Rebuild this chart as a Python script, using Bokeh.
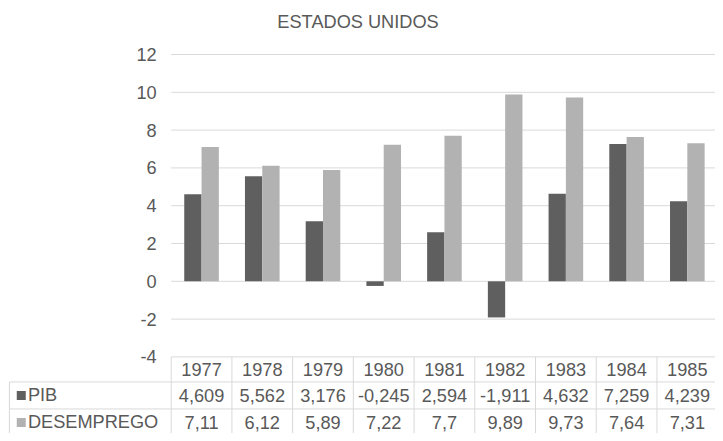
from bokeh.plotting import figure
from bokeh.models import Range1d
from bokeh.core.properties import value
from bokeh.embed import file_html
from bokeh.resources import INLINE

# ---- data ----
years = ["1977", "1978", "1979", "1980", "1981", "1982", "1983", "1984", "1985"]
pib = [4.609, 5.562, 3.176, -0.245, 2.594, -1.911, 4.632, 7.259, 4.239]
desemprego = [7.11, 6.12, 5.89, 7.22, 7.7, 9.89, 9.73, 7.64, 7.31]
series_names = ["PIB", "DESEMPREGO"]
y_ticks = [-4, -2, 0, 2, 4, 6, 8, 10, 12]
title_text = "ESTADOS UNIDOS"

# ---- style ----
FONT = "Liberation Sans"
TXT = "#595959"
GRID = "#d9d9d9"
C_PIB = "#5f5f5f"
C_DES = "#b2b2b2"
FS = "18.2px"

# ---- layout (data units: x = category index, y = value) ----
X_LO, X_HI = -2.811, 8.964
Y_LO, Y_HI = -8.052, 14.857
BAR_W = 0.285
TICK_LABEL_X = -0.24
TABLE_LEFT = -2.664
ROW_EDGES = [-4.0, -5.325, -6.753]          # table horizontal lines
ROW_CENTERS = [-4.66, -6.04, -7.47]         # years row, PIB row, DESEMPREGO row
KEY_X = -2.469
KEY_TEXT_X = -2.36
TITLE_X, TITLE_Y = 3.077, 13.73

p = figure(width=715, height=433, x_range=Range1d(X_LO, X_HI), y_range=Range1d(Y_LO, Y_HI),
           output_backend="svg", toolbar_location=None, min_border=0,
           x_axis_location=None, y_axis_location=None, outline_line_color=None)
p.grid.visible = False
p.background_fill_color = "white"
p.border_fill_color = "white"

n = len(years)
centers = [i + 0.5 for i in range(n)]

# gridlines
p.segment(x0=[0] * len(y_ticks), x1=[n + 0.5] * len(y_ticks), y0=y_ticks, y1=y_ticks,
          line_color=GRID, line_width=1)

# y tick labels
p.text(x=[TICK_LABEL_X] * len(y_ticks), y=y_ticks, text=[str(t) for t in y_ticks],
       text_font=value(FONT), text_font_size=FS, text_color=TXT,
       text_align="right", text_baseline="middle")

# bars
p.vbar(x=[c - BAR_W / 2 for c in centers], top=pib, bottom=0, width=BAR_W,
       fill_color=C_PIB, line_color=None)
p.vbar(x=[c + BAR_W / 2 for c in centers], top=desemprego, bottom=0, width=BAR_W,
       fill_color=C_DES, line_color=None)

# table lines
vx = list(range(n + 1))
p.segment(x0=vx, x1=vx, y0=[ROW_EDGES[0]] * len(vx), y1=[Y_LO] * len(vx),
          line_color=GRID, line_width=1)
p.segment(x0=[TABLE_LEFT], x1=[TABLE_LEFT], y0=[ROW_EDGES[1]], y1=[Y_LO],
          line_color=GRID, line_width=1)
p.segment(x0=[TABLE_LEFT] * 2, x1=[n + 0.5] * 2, y0=ROW_EDGES[1:], y1=ROW_EDGES[1:],
          line_color=GRID, line_width=1)

def fmt(v):
    return str(v).replace(".", ",")

# table text
p.text(x=centers, y=[ROW_CENTERS[0]] * n, text=years, text_font=value(FONT),
       text_font_size=FS, text_color=TXT, text_align="center", text_baseline="middle")
p.text(x=centers, y=[ROW_CENTERS[1]] * n, text=[fmt(v) for v in pib], text_font=value(FONT),
       text_font_size=FS, text_color=TXT, text_align="center", text_baseline="middle")
p.text(x=centers, y=[ROW_CENTERS[2]] * n, text=[fmt(v) for v in desemprego], text_font=value(FONT),
       text_font_size=FS, text_color=TXT, text_align="center", text_baseline="middle")

# legend keys in table
p.scatter(x=[KEY_X] * 2, y=ROW_CENTERS[1:], marker="square", size=9,
          fill_color=[C_PIB, C_DES], line_color=None)
p.text(x=[KEY_TEXT_X] * 2, y=ROW_CENTERS[1:], text=series_names, text_font=value(FONT),
       text_font_size=FS, text_color=TXT, text_align="left", text_baseline="middle")

# title
p.text(x=[TITLE_X], y=[TITLE_Y], text=[title_text], text_font=value(FONT),
       text_font_size=FS, text_color=TXT, text_align="center", text_baseline="middle")

open("out.html", "w").write(file_html(p, INLINE))
